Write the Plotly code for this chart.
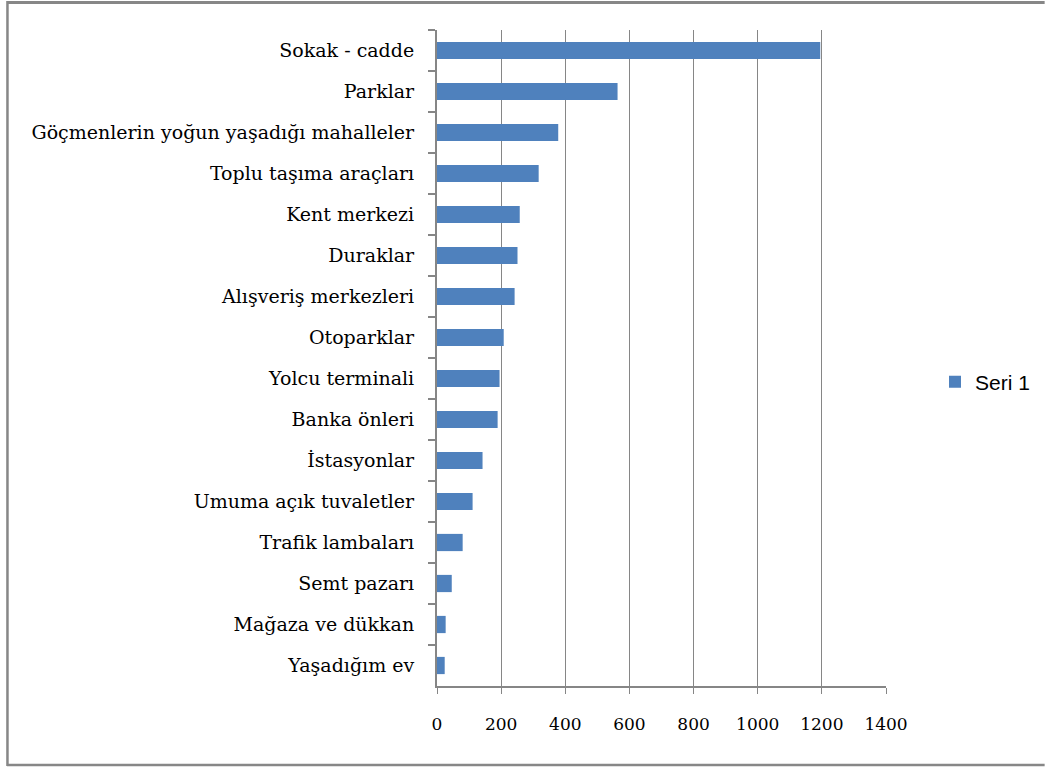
import plotly.graph_objects as go

categories = [
    "Sokak - cadde", "Parklar", "Göçmenlerin yoğun yaşadığı mahalleler",
    "Toplu taşıma araçları", "Kent merkezi", "Duraklar", "Alışveriş merkezleri",
    "Otoparklar", "Yolcu terminali", "Banka önleri", "İstasyonlar",
    "Umuma açık tuvaletler", "Trafik lambaları", "Semt pazarı",
    "Mağaza ve dükkan", "Yaşadığım ev",
]
values = [1195, 563, 378, 317, 258, 251, 242, 208, 195, 189, 142, 111, 80, 46, 27, 24]
series_name = "Seri 1"
x_ticks = [0, 200, 400, 600, 800, 1000, 1200, 1400]

W, H = 1046, 767
L, R, T, B = 437, 159, 30, 81
pw, ph = W - L - R, H - T - B

def px_x(p):
    return (p - L) / pw

def px_y(p):
    return (H - B - p) / ph

fig = go.Figure()
fig.add_trace(go.Bar(
    y=categories, x=values, orientation="h", name=series_name,
    marker=dict(color="#4F81BD", line=dict(width=0)),
    showlegend=True,
))

grid = "#868686"
border = "#878787"
fig.update_layout(
    width=W, height=H,
    margin=dict(l=L, r=R, t=T, b=B),
    paper_bgcolor="white", plot_bgcolor="white",
    bargap=0.58,
    font=dict(family="DejaVu Serif", color="black"),
    xaxis=dict(
        range=[0, 1400], tickvals=x_ticks, ticktext=[str(v) for v in x_ticks],
        showgrid=True, gridcolor=grid, gridwidth=1,
        showline=True, linecolor=grid, linewidth=2,
        ticks="outside", ticklen=6, tickcolor=grid, tickwidth=1,
        tickfont=dict(family="DejaVu Serif", size=17, color="black"),
        ticklabelstandoff=16,
        zeroline=False, fixedrange=True,
    ),
    yaxis=dict(
        autorange="reversed", type="category",
        showline=True, linecolor=grid, linewidth=2,
        ticks="outside", ticklen=7, tickcolor=grid, tickwidth=2,
        tickson="boundaries",
        tickfont=dict(family="DejaVu Serif", size=19, color="black"),
        ticklabelstandoff=17,
        showgrid=False, fixedrange=True,
    ),
    legend=dict(
        x=px_x(935), y=px_y(382), xanchor="left", yanchor="middle",
        font=dict(family="Liberation Sans", size=21, color="black"),
        bgcolor="rgba(0,0,0,0)",
    ),
    shapes=[
        dict(type="line", xref="paper", yref="paper",
             x0=px_x(6), x1=px_x(1046), y0=px_y(2.5), y1=px_y(2.5),
             line=dict(color=border, width=3), layer="above"),
        dict(type="line", xref="paper", yref="paper",
             x0=px_x(6.5), x1=px_x(6.5), y0=px_y(1), y1=px_y(766),
             line=dict(color=border, width=2.5), layer="above"),
        dict(type="line", xref="paper", yref="paper",
             x0=px_x(6), x1=px_x(1046), y0=px_y(765), y1=px_y(765),
             line=dict(color=border, width=2.5), layer="above"),
    ],
)

fig.write_html(
    "out.html",
    config={"displayModeBar": False},
    post_script="document.body.style.margin='0';document.body.style.padding='0';",
)
